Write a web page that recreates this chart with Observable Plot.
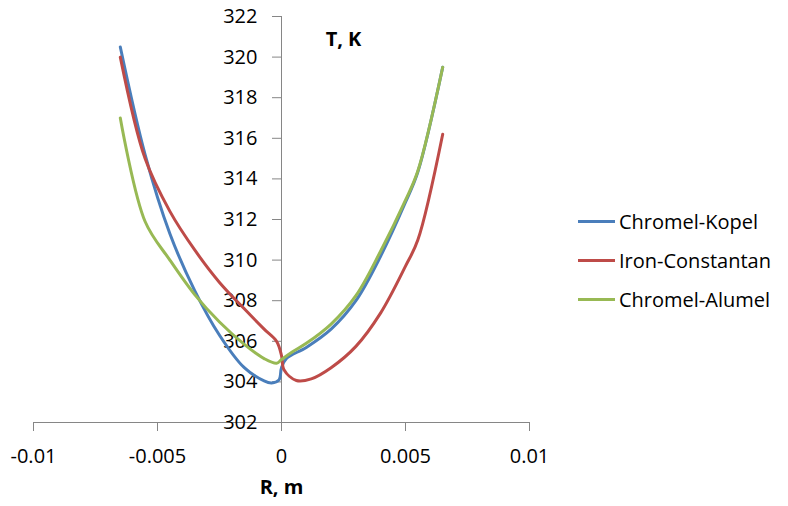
<!DOCTYPE html>
<html><head><meta charset="utf-8">
<script src="https://cdn.jsdelivr.net/npm/d3@7"></script>
<script src="https://cdn.jsdelivr.net/npm/@observablehq/plot@0.6"></script>
<style>
body{margin:0;background:#fff;font-family:"Open Sans",sans-serif;}
#wrap{position:relative;width:788px;height:506px;overflow:hidden;}
#legend{position:absolute;left:578px;top:202px;}
.item{display:flex;align-items:center;height:39px;font-size:20px;color:#000;white-space:nowrap;}
.sw{width:37px;height:3px;margin-right:4px;}
</style></head><body>
<div id="wrap"><div id="chart"></div><div id="legend"></div></div>
<script>
// ---- data ----
const seriesNames = ["Chromel-Kopel", "Iron-Constantan", "Chromel-Alumel"];
const seriesColors = ["#4A7EBB", "#BE4B48", "#98B954"];

const ckR = [-0.0065, -0.0055, -0.0045, -0.0035, -0.0025, -0.0015, -0.0007, -0.0004, -0.0001, 0, 0.0002, 0.001, 0.002, 0.003, 0.004, 0.005, 0.0055, 0.0065];
const ckT = [320.5, 315.2, 311.3, 308.5, 306.3, 304.7, 304.05, 303.95, 304.1, 304.7, 305.15, 305.7, 306.6, 308.0, 310.2, 312.85, 314.35, 319.5];

const icR = [-0.0065, -0.0055, -0.0045, -0.0035, -0.0025, -0.0015, -0.0007, -0.0002, 0, 0.0001, 0.0006, 0.0012, 0.002, 0.003, 0.004, 0.005, 0.0055, 0.0065];
const icT = [320.0, 315.0, 312.4, 310.5, 308.9, 307.6, 306.6, 306.0, 305.3, 304.6, 304.07, 304.15, 304.7, 305.75, 307.4, 309.7, 311.0, 316.2];

const caR = [-0.0065, -0.0055, -0.0045, -0.0035, -0.0025, -0.0015, -0.0007, -0.0002, 0, 0.0004, 0.001, 0.002, 0.003, 0.004, 0.005, 0.0055, 0.0065];
const caT = [317.0, 311.9, 310.0, 308.3, 306.95, 305.85, 305.15, 304.92, 305.1, 305.45, 305.9, 306.85, 308.25, 310.45, 312.95, 314.4, 319.5];

const xTicks = [-0.01, -0.005, 0, 0.005, 0.01];
const yTicks = [302, 304, 306, 308, 310, 312, 314, 316, 318, 320, 322];
const xLabel = "R, m";
const yLabel = "T, K";

// ---- build table ----
const rows = [];
[[ckR, ckT], [icR, icT], [caR, caT]].forEach(([rs, ts], i) => {
  rs.forEach((r, j) => rows.push({series: seriesNames[i], r, t: ts[j]}));
});

const axisGray = "#868686";
const font = "'Open Sans', sans-serif";

const chart = Plot.plot({
  width: 560,
  height: 506,
  marginLeft: 33,
  marginRight: 31,
  marginTop: 16,
  marginBottom: 84,
  style: {fontFamily: font, fontSize: "20px", background: "#fff", color: "#000"},
  x: {domain: [-0.01, 0.01], axis: null},
  y: {domain: [302, 322], axis: null},
  color: {domain: seriesNames, range: seriesColors},
  marks: [
    Plot.ruleY([302], {stroke: axisGray, strokeWidth: 1}),
    Plot.ruleX([0], {stroke: axisGray, strokeWidth: 1}),
    Plot.axisX({anchor: "bottom", ticks: xTicks, tickFormat: d => String(d), tickSize: 9, tickPadding: 17,
      stroke: axisGray, fill: "#000", fontSize: 20, label: null}),
    Plot.axisY({x: 0, anchor: "left", ticks: yTicks, tickFormat: d => String(d), tickSize: 9, tickPadding: 15,
      stroke: axisGray, fill: "#000", fontSize: 20, label: null}),
    Plot.line(rows, {x: "r", y: "t", z: "series", stroke: "series", strokeWidth: 3, curve: "catmull-rom",
      strokeLinecap: "round", strokeLinejoin: "round"}),
    Plot.text([yLabel], {frameAnchor: "top", dx: 62, dy: 15, fontWeight: "bold", fontSize: 20}),
    Plot.text([xLabel], {frameAnchor: "bottom", dx: 0, dy: 71, fontWeight: "bold", fontSize: 20})
  ]
});
document.getElementById("chart").appendChild(chart);

// ---- legend ----
const legend = document.getElementById("legend");
seriesNames.forEach((name, i) => {
  const item = document.createElement("div");
  item.className = "item";
  const sw = document.createElement("span");
  sw.className = "sw";
  sw.style.background = seriesColors[i];
  const lab = document.createElement("span");
  lab.textContent = name;
  item.appendChild(sw);
  item.appendChild(lab);
  legend.appendChild(item);
});
</script>
</body></html>
